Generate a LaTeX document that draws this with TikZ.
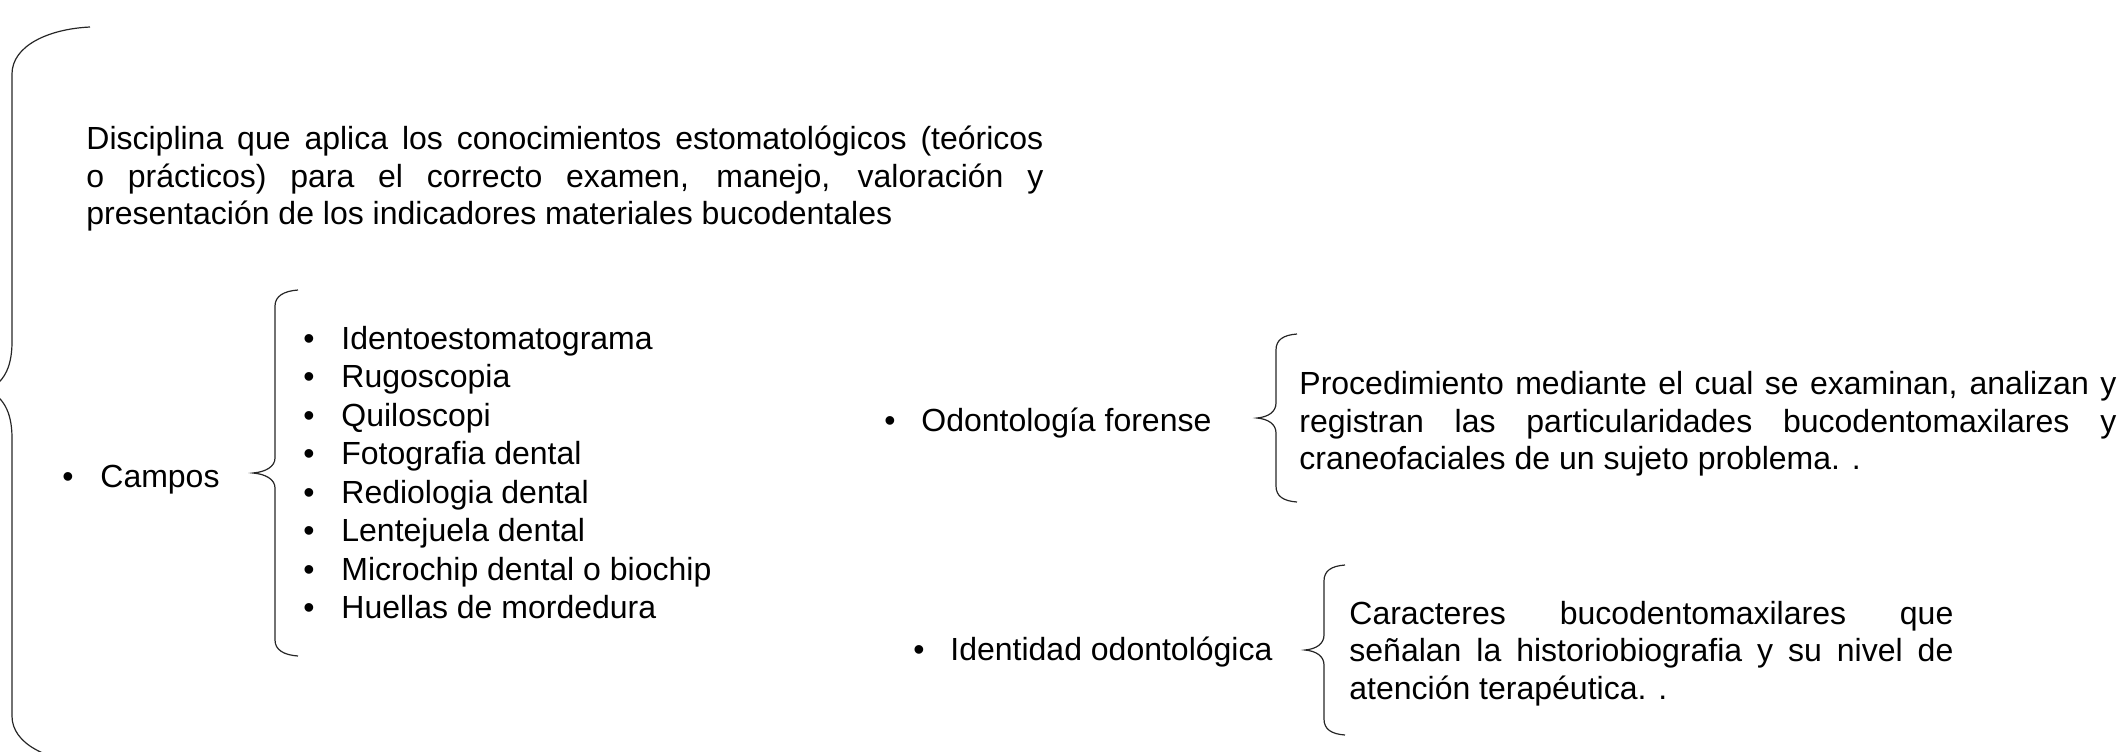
\documentclass[tikz,border=0pt]{standalone}
\usepackage{fontspec}
\setmainfont{Liberation Sans}
\begin{document}
\begin{tikzpicture}[x=0.5pt,y=-0.5pt,
  txt/.style={anchor=base west,inner sep=0pt,font=\fontsize{16}{19}\selectfont,text=black},
  bul/.style={anchor=base,inner sep=0pt,font=\fontsize{16}{19}\selectfont,text=black},
  bracepen/.style={draw=black!85,line width=0.6pt}]
\clip (0,0) rectangle (2124,751);
% big brace
\draw[bracepen] (90,27) .. controls (48,29) and (12,46) .. (12,74) -- (12,342)
  .. controls (12,370) and (2,383) .. (-12,390) .. controls (2,397) and (12,410) .. (12,438)
  -- (12,716) .. controls (12,744) and (48,761) .. (90,763);
% definition paragraph
\node[txt] (d1) at (86,149) {\makebox[478.5pt][s]{Disciplina que aplica los conocimientos estomatológicos (teóricos}};
\node[txt] (d2) at (86,187) {\makebox[478.5pt][s]{o prácticos) para el correcto examen, manejo, valoración y}};
\node[txt] (d3) at (86,224) {presentación de los indicadores materiales bucodentales};
% Campos
\node[bul] (bc) at (68,487) {•};
\node[txt] (campos) at (100,487) {Campos};
\draw[bracepen] (298,290) .. controls (284,291) and (275,296) .. (275,306) -- (275,458)
  .. controls (275,467) and (265,472) .. (253,473) .. controls (265,474) and (275,479) .. (275,488)
  -- (275,640) .. controls (275,650) and (284,655) .. (298,656);
\foreach \t [count=\i from 0] in {Identoestomatograma,Rugoscopia,Quiloscopi,Fotografia dental,Rediologia dental,Lentejuela dental,Microchip dental o biochip,Huellas de mordedura}{
  \node[bul] (b\i) at (309,{349+38.5*\i}) {•};
  \node[txt] (it\i) at (341,{349+38.5*\i}) {\t};
}
% Odontologia forense
\node[bul] (bf) at (890,431) {•};
\node[txt] (forense) at (921,431) {Odontología forense};
\draw[bracepen] (1297,334) .. controls (1283,335) and (1276,340) .. (1276,350) -- (1276,403)
  .. controls (1276,412) and (1268,417) .. (1257,418) .. controls (1268,419) and (1276,424) .. (1276,433)
  -- (1276,486) .. controls (1276,496) and (1283,501) .. (1297,502);
\node[txt] (f1) at (1299,394) {\makebox[408.5pt][s]{Procedimiento mediante el cual se examinan, analizan y}};
\node[txt] (f2) at (1299,432) {\makebox[408.5pt][s]{registran las particularidades bucodentomaxilares y}};
\node[txt] (f3) at (1299,469) {craneofaciales de un sujeto problema. .};
% Identidad odontologica
\node[bul] (bi) at (919,660) {•};
\node[txt] (identidad) at (950,660) {Identidad odontológica};
\draw[bracepen] (1345,565) .. controls (1331,566) and (1324,571) .. (1324,581) -- (1324,635)
  .. controls (1324,644) and (1316,649) .. (1305,650) .. controls (1316,651) and (1324,656) .. (1324,665)
  -- (1324,719) .. controls (1324,729) and (1331,734) .. (1345,735);
\node[txt] (i1) at (1349,624) {\makebox[302pt][s]{Caracteres bucodentomaxilares que}};
\node[txt] (i2) at (1349,661) {\makebox[302pt][s]{señalan la historiobiografia y su nivel de}};
\node[txt] (i3) at (1349,699) {atención terapéutica. .};
\end{tikzpicture}
\end{document}
